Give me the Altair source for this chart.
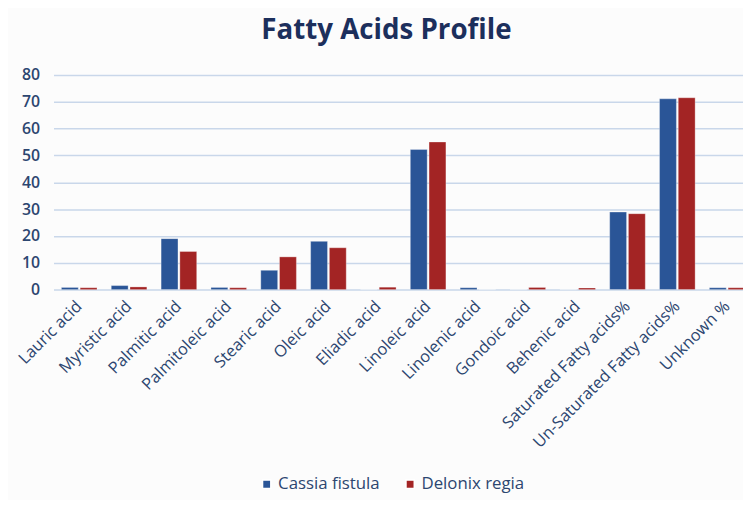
import altair as alt
import pandas as pd

categories = ["Lauric acid", "Myristic acid", "Palmitic acid", "Palmitoleic acid",
              "Stearic acid", "Oleic acid", "Eliadic acid", "Linoleic acid",
              "Linolenic acid", "Gondoic acid", "Behenic acid",
              "Saturated Fatty acids%", "Un-Saturated Fatty acids%", "Unknown %"]
cassia = [0.8, 1.5, 19.0, 0.8, 7.2, 18.0, 0.0, 52.2, 0.7, 0.0, 0.0, 28.9, 71.1, 0.7]
delonix = [0.7, 1.0, 14.2, 0.7, 12.2, 15.6, 0.9, 55.0, 0.0, 0.8, 0.6, 28.3, 71.5, 0.7]
series = ["Cassia fistula", "Delonix regia"]

rows = []
for c, a, b in zip(categories, cassia, delonix):
    rows.append({"cat": c, "series": series[0], "value": a})
    rows.append({"cat": c, "series": series[1], "value": b})
df = pd.DataFrame(rows)

navy = "#1c2f5c"
font = "Open Sans"
lab = "#2c4670"

chart = alt.Chart(df).mark_bar(stroke="white", strokeWidth=0.5, strokeOpacity=0.6).encode(
    x=alt.X("cat:N", sort=categories, title=None,
            scale=alt.Scale(paddingInner=0.286, paddingOuter=0.159),
            axis=alt.Axis(labelAngle=-45, labelAlign="right", labelBaseline="middle",
                          labelFontSize=16.5, labelColor=lab, labelFont=font,
                          domain=False, ticks=False, labelPadding=14, labelLimit=300)),
    xOffset=alt.XOffset("series:N", sort=series, scale=alt.Scale(paddingInner=0.1)),
    y=alt.Y("value:Q", title=None,
            scale=alt.Scale(domain=[0, 80]),
            axis=alt.Axis(values=[0, 10, 20, 30, 40, 50, 60, 70, 80],
                          labelFontSize=16, labelColor=lab, labelFont=font,
                          labelFontWeight=600, domain=False, ticks=False,
                          labelPadding=14, gridColor="#c9d7ea", gridWidth=1.5)),
    color=alt.Color("series:N", sort=series,
                    scale=alt.Scale(domain=series, range=["#2a5597", "#a32424"]),
                    legend=alt.Legend(title=None, orient="none", direction="horizontal",
                                      legendX=207, legendY=405, symbolType="square",
                                      symbolSize=70, labelFontSize=17, labelFont=font,
                                      labelColor=lab, columnPadding=22, symbolOffset=0,
                                      labelOffset=3)),
).properties(
    width=707, height=217,
    title=alt.TitleParams("Fatty Acids Profile", fontSize=28, font=font,
                          fontWeight="bold", color=navy, anchor="middle", offset=22,
                          dx=-17),
    autosize=alt.AutoSizeParams(type="none"),
    padding={"left": 46, "top": 65, "right": -10, "bottom": 210},
    background="#fcfcfc",
).configure_view(stroke=None)

chart.save("out.html", embed_options={"renderer": "svg", "actions": False})
